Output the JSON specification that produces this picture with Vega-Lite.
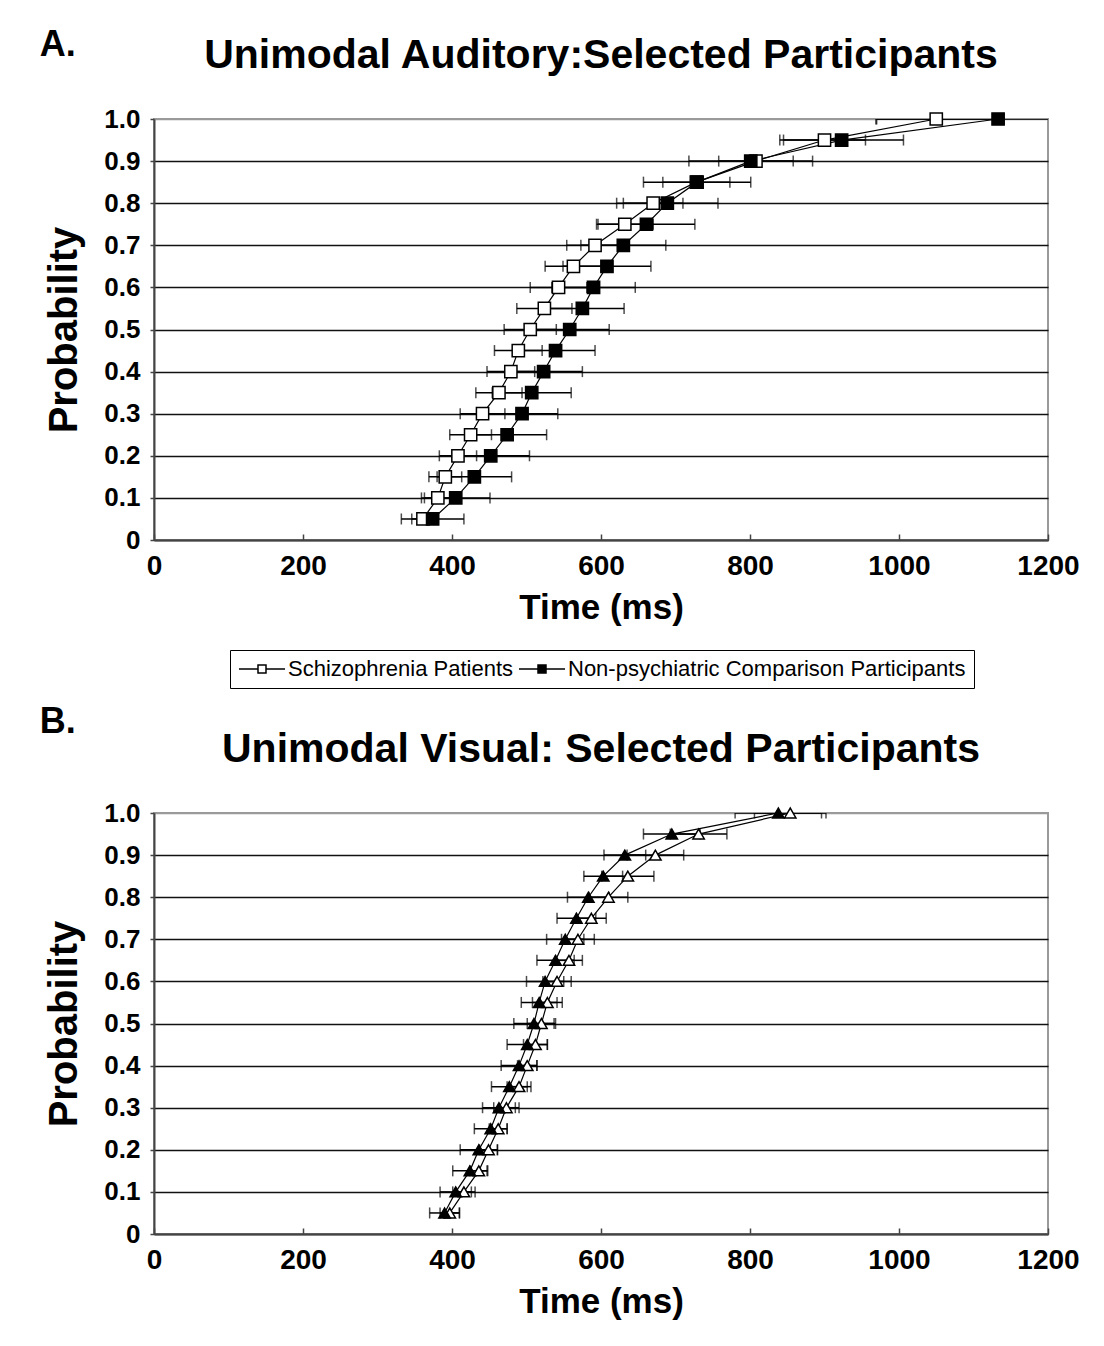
{
  "$schema": "https://vega.github.io/schema/vega-lite/v6.json",
  "background": "white",
  "padding": {"left": 39, "top": 27, "right": 10, "bottom": 10},
  "config": {
    "font": "Liberation Sans",
    "view": {"stroke": "#9a9a9a", "strokeWidth": 2},
    "title": {"font": "Liberation Sans", "fontWeight": "bold", "color": "black"},
    "axis": {
      "labelFont": "Liberation Sans", "labelFontWeight": "bold", "labelColor": "black",
      "titleFont": "Liberation Sans", "titleFontWeight": "bold", "titleColor": "black",
      "domainColor": "#444", "domainWidth": 2, "tickColor": "#444", "tickWidth": 1.5,
      "labelFlush": false, "labelOverlap": false
    },
    "legend": {"labelFont": "Liberation Sans", "labelFontSize": 22, "labelColor": "black"}
  },
  "spacing": 78,
  "vconcat": [
    {
      "title": {"text": "A.", "anchor": "start", "fontSize": 36, "dx": -4, "dy": 34},
      "vconcat": [
        {
          "width": 894,
          "height": 421,
          "title": {"text": "Unimodal Auditory:Selected Participants", "fontSize": 41, "anchor": "middle", "offset": 29},
          "data": {"values": [
            {"group": "Schizophrenia Patients", "p": 0.05, "time": 361, "err": 15},
            {"group": "Schizophrenia Patients", "p": 0.10, "time": 381, "err": 18},
            {"group": "Schizophrenia Patients", "p": 0.15, "time": 391, "err": 22},
            {"group": "Schizophrenia Patients", "p": 0.20, "time": 408, "err": 25},
            {"group": "Schizophrenia Patients", "p": 0.25, "time": 425, "err": 28},
            {"group": "Schizophrenia Patients", "p": 0.30, "time": 441, "err": 30},
            {"group": "Schizophrenia Patients", "p": 0.35, "time": 463, "err": 31},
            {"group": "Schizophrenia Patients", "p": 0.40, "time": 479, "err": 32},
            {"group": "Schizophrenia Patients", "p": 0.45, "time": 489, "err": 32},
            {"group": "Schizophrenia Patients", "p": 0.50, "time": 505, "err": 35},
            {"group": "Schizophrenia Patients", "p": 0.55, "time": 524, "err": 37},
            {"group": "Schizophrenia Patients", "p": 0.60, "time": 543, "err": 38},
            {"group": "Schizophrenia Patients", "p": 0.65, "time": 563, "err": 38},
            {"group": "Schizophrenia Patients", "p": 0.70, "time": 592, "err": 38},
            {"group": "Schizophrenia Patients", "p": 0.75, "time": 632, "err": 38},
            {"group": "Schizophrenia Patients", "p": 0.80, "time": 670, "err": 40},
            {"group": "Schizophrenia Patients", "p": 0.85, "time": 728, "err": 45},
            {"group": "Schizophrenia Patients", "p": 0.90, "time": 808, "err": 50},
            {"group": "Schizophrenia Patients", "p": 0.95, "time": 900, "err": 55},
            {"group": "Schizophrenia Patients", "p": 1.00, "time": 1050, "err": 80},
            {"group": "Non-psychiatric Comparison Participants", "p": 0.05, "time": 374, "err": 42},
            {"group": "Non-psychiatric Comparison Participants", "p": 0.10, "time": 405, "err": 46},
            {"group": "Non-psychiatric Comparison Participants", "p": 0.15, "time": 430, "err": 50},
            {"group": "Non-psychiatric Comparison Participants", "p": 0.20, "time": 452, "err": 52},
            {"group": "Non-psychiatric Comparison Participants", "p": 0.25, "time": 474, "err": 53},
            {"group": "Non-psychiatric Comparison Participants", "p": 0.30, "time": 494, "err": 48},
            {"group": "Non-psychiatric Comparison Participants", "p": 0.35, "time": 507, "err": 53},
            {"group": "Non-psychiatric Comparison Participants", "p": 0.40, "time": 523, "err": 52},
            {"group": "Non-psychiatric Comparison Participants", "p": 0.45, "time": 539, "err": 53},
            {"group": "Non-psychiatric Comparison Participants", "p": 0.50, "time": 558, "err": 53},
            {"group": "Non-psychiatric Comparison Participants", "p": 0.55, "time": 575, "err": 56},
            {"group": "Non-psychiatric Comparison Participants", "p": 0.60, "time": 590, "err": 56},
            {"group": "Non-psychiatric Comparison Participants", "p": 0.65, "time": 608, "err": 59},
            {"group": "Non-psychiatric Comparison Participants", "p": 0.70, "time": 630, "err": 57},
            {"group": "Non-psychiatric Comparison Participants", "p": 0.75, "time": 661, "err": 65},
            {"group": "Non-psychiatric Comparison Participants", "p": 0.80, "time": 689, "err": 68},
            {"group": "Non-psychiatric Comparison Participants", "p": 0.85, "time": 729, "err": 72},
            {"group": "Non-psychiatric Comparison Participants", "p": 0.90, "time": 801, "err": 83},
            {"group": "Non-psychiatric Comparison Participants", "p": 0.95, "time": 923, "err": 83},
            {"group": "Non-psychiatric Comparison Participants", "p": 1.00, "time": 1133, "err": 164}
          ]},
          "encoding": {
            "x": {
              "field": "time", "type": "quantitative",
              "scale": {"domain": [0, 1200], "nice": false},
              "axis": {
                "values": [0, 200, 400, 600, 800, 1000, 1200], "format": "d",
                "grid": false, "labelFontSize": 28, "labelPadding": 18, "tickSize": -6,
                "title": "Time (ms)", "titleFontSize": 35, "titlePadding": 10
              }
            },
            "y": {
              "field": "p", "type": "quantitative",
              "scale": {"domain": [0, 1], "nice": false},
              "axis": {
                "values": [0, 0.1, 0.2, 0.3, 0.4, 0.5, 0.6, 0.7, 0.8, 0.9, 1.0],
                "labelExpr": "datum.value == 0 ? '0' : format(datum.value, '.1f')",
                "grid": true,
                "gridColor": {"condition": {"test": "datum.value >= 1", "value": "#9a9a9a"}, "value": "#111"},
                "gridWidth": 1.6,
                "labelFontSize": 26, "labelPadding": 10, "tickSize": 4,
                "title": "Probability", "titleFontSize": 40, "titlePadding": 19
              }
            }
          },
          "layer": [
            {
              "mark": {"type": "errorbar", "ticks": {"size": 11, "thickness": 1.5}, "thickness": 1.5, "color": "black", "clip": true},
              "encoding": {
                "xError": {"field": "err"}
              }
            },
            {
              "mark": {"type": "line", "color": "black", "strokeWidth": 1.2},
              "encoding": {
                "detail": {"field": "group"},
                "order": {"field": "p"}
              }
            },
            {
              "mark": {"type": "point", "shape": "square", "size": 150, "filled": true, "stroke": "black", "strokeWidth": 1.5, "opacity": 1},
              "encoding": {
                "fill": {
                  "field": "group", "type": "nominal",
                  "scale": {"domain": ["Schizophrenia Patients", "Non-psychiatric Comparison Participants"], "range": ["white", "black"]},
                  "legend": {
                    "title": null, "orient": "none", "legendX": 76, "legendY": 531,
                    "direction": "horizontal", "columns": 2, "columnPadding": 2,
                    "strokeColor": "black", "padding": 8, "labelLimit": 0,
                    "symbolType": "M-1,0H0.9M1.7,0H3.6M0.9,-0.4H1.7V0.4H0.9Z",
                    "symbolSize": 400, "symbolStrokeColor": "black", "symbolStrokeWidth": 1.5,
                    "labelOffset": 28, "labelFontSize": 22
                  }
                }
              }
            }
          ]
        }
      ]
    },
    {
      "title": {"text": "B.", "anchor": "start", "fontSize": 36, "dx": -4, "dy": 17},
      "vconcat": [
        {
          "width": 894,
          "height": 421,
          "title": {"text": "Unimodal Visual: Selected Participants", "fontSize": 41, "anchor": "middle", "offset": 29},
          "data": {"values": [
            {"group": "Schizophrenia Patients", "p": 0.05, "time": 397, "err": 13},
            {"group": "Schizophrenia Patients", "p": 0.10, "time": 416, "err": 15},
            {"group": "Schizophrenia Patients", "p": 0.15, "time": 436, "err": 12},
            {"group": "Schizophrenia Patients", "p": 0.20, "time": 449, "err": 12},
            {"group": "Schizophrenia Patients", "p": 0.25, "time": 462, "err": 12},
            {"group": "Schizophrenia Patients", "p": 0.30, "time": 473, "err": 17},
            {"group": "Schizophrenia Patients", "p": 0.35, "time": 490, "err": 16},
            {"group": "Schizophrenia Patients", "p": 0.40, "time": 501, "err": 13},
            {"group": "Schizophrenia Patients", "p": 0.45, "time": 512, "err": 16},
            {"group": "Schizophrenia Patients", "p": 0.50, "time": 520, "err": 19},
            {"group": "Schizophrenia Patients", "p": 0.55, "time": 528, "err": 20},
            {"group": "Schizophrenia Patients", "p": 0.60, "time": 541, "err": 19},
            {"group": "Schizophrenia Patients", "p": 0.65, "time": 557, "err": 18},
            {"group": "Schizophrenia Patients", "p": 0.70, "time": 569, "err": 22},
            {"group": "Schizophrenia Patients", "p": 0.75, "time": 587, "err": 20},
            {"group": "Schizophrenia Patients", "p": 0.80, "time": 610, "err": 26},
            {"group": "Schizophrenia Patients", "p": 0.85, "time": 636, "err": 35},
            {"group": "Schizophrenia Patients", "p": 0.90, "time": 673, "err": 38},
            {"group": "Schizophrenia Patients", "p": 0.95, "time": 731, "err": 38},
            {"group": "Schizophrenia Patients", "p": 1.00, "time": 854, "err": 48},
            {"group": "Non-psychiatric Comparison Participants", "p": 0.05, "time": 390, "err": 20},
            {"group": "Non-psychiatric Comparison Participants", "p": 0.10, "time": 405, "err": 21},
            {"group": "Non-psychiatric Comparison Participants", "p": 0.15, "time": 424, "err": 23},
            {"group": "Non-psychiatric Comparison Participants", "p": 0.20, "time": 436, "err": 25},
            {"group": "Non-psychiatric Comparison Participants", "p": 0.25, "time": 452, "err": 22},
            {"group": "Non-psychiatric Comparison Participants", "p": 0.30, "time": 463, "err": 22},
            {"group": "Non-psychiatric Comparison Participants", "p": 0.35, "time": 477, "err": 24},
            {"group": "Non-psychiatric Comparison Participants", "p": 0.40, "time": 490, "err": 24},
            {"group": "Non-psychiatric Comparison Participants", "p": 0.45, "time": 501, "err": 27},
            {"group": "Non-psychiatric Comparison Participants", "p": 0.50, "time": 510, "err": 27},
            {"group": "Non-psychiatric Comparison Participants", "p": 0.55, "time": 517, "err": 24},
            {"group": "Non-psychiatric Comparison Participants", "p": 0.60, "time": 525, "err": 25},
            {"group": "Non-psychiatric Comparison Participants", "p": 0.65, "time": 539, "err": 25},
            {"group": "Non-psychiatric Comparison Participants", "p": 0.70, "time": 552, "err": 25},
            {"group": "Non-psychiatric Comparison Participants", "p": 0.75, "time": 567, "err": 26},
            {"group": "Non-psychiatric Comparison Participants", "p": 0.80, "time": 583, "err": 28},
            {"group": "Non-psychiatric Comparison Participants", "p": 0.85, "time": 603, "err": 26},
            {"group": "Non-psychiatric Comparison Participants", "p": 0.90, "time": 632, "err": 28},
            {"group": "Non-psychiatric Comparison Participants", "p": 0.95, "time": 695, "err": 38},
            {"group": "Non-psychiatric Comparison Participants", "p": 1.00, "time": 838, "err": 58}
          ]},
          "encoding": {
            "x": {
              "field": "time", "type": "quantitative",
              "scale": {"domain": [0, 1200], "nice": false},
              "axis": {
                "values": [0, 200, 400, 600, 800, 1000, 1200], "format": "d",
                "grid": false, "labelFontSize": 28, "labelPadding": 18, "tickSize": -6,
                "title": "Time (ms)", "titleFontSize": 35, "titlePadding": 10
              }
            },
            "y": {
              "field": "p", "type": "quantitative",
              "scale": {"domain": [0, 1], "nice": false},
              "axis": {
                "values": [0, 0.1, 0.2, 0.3, 0.4, 0.5, 0.6, 0.7, 0.8, 0.9, 1.0],
                "labelExpr": "datum.value == 0 ? '0' : format(datum.value, '.1f')",
                "grid": true,
                "gridColor": {"condition": {"test": "datum.value >= 1", "value": "#9a9a9a"}, "value": "#111"},
                "gridWidth": 1.6,
                "labelFontSize": 26, "labelPadding": 10, "tickSize": 4,
                "title": "Probability", "titleFontSize": 40, "titlePadding": 19
              }
            }
          },
          "layer": [
            {
              "mark": {"type": "errorbar", "ticks": {"size": 11, "thickness": 1.5}, "thickness": 1.5, "color": "black", "clip": true},
              "encoding": {
                "xError": {"field": "err"}
              }
            },
            {
              "mark": {"type": "line", "color": "black", "strokeWidth": 1.2},
              "encoding": {
                "detail": {"field": "group"},
                "order": {"field": "p"}
              }
            },
            {
              "mark": {"type": "point", "shape": "triangle-up", "size": 130, "filled": true, "stroke": "black", "strokeWidth": 1.5, "opacity": 1},
              "encoding": {
                "fill": {
                  "field": "group", "type": "nominal",
                  "scale": {"domain": ["Schizophrenia Patients", "Non-psychiatric Comparison Participants"], "range": ["white", "black"]},
                  "legend": null
                }
              }
            }
          ]
        }
      ]
    }
  ]
}
